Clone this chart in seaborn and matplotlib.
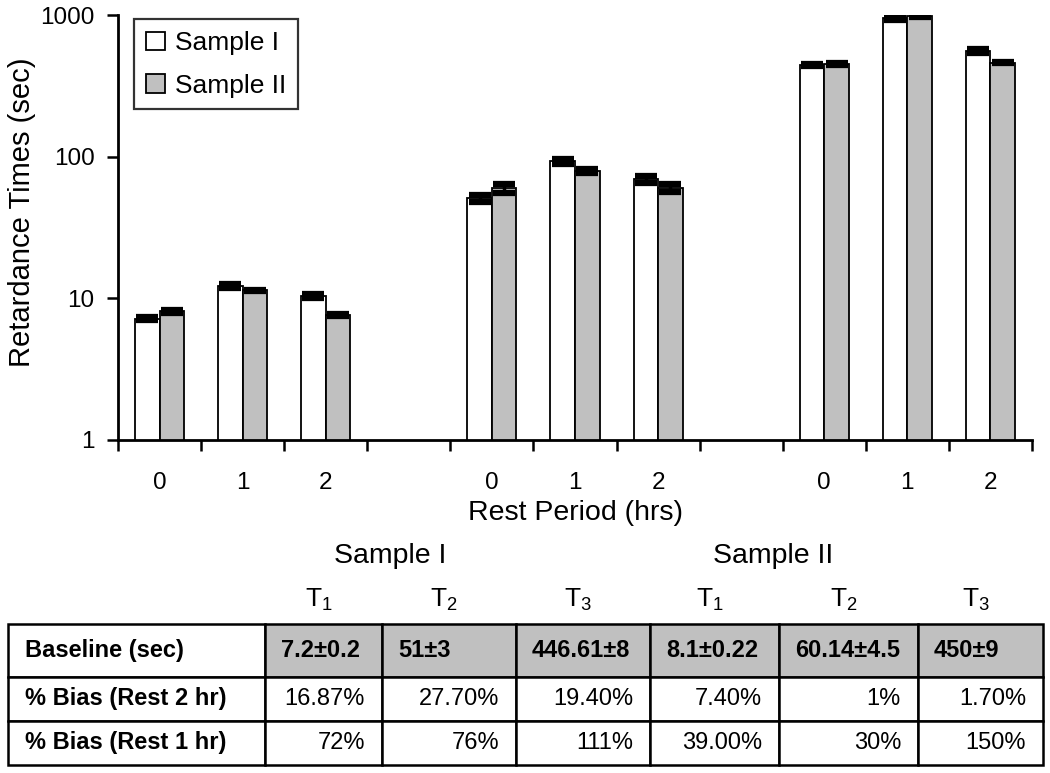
import pandas as pd
import numpy as np
import matplotlib
matplotlib.use('Agg')
import matplotlib.pyplot as plt
import matplotlib.ticker as mtick
import seaborn as sns

# data
slots = ['T1-0', 'T1-1', 'T1-2', 'gap1', 'T2-0', 'T2-1', 'T2-2', 'gap2', 'T3-0', 'T3-1', 'T3-2']
slot_labels = ['0', '1', '2', '', '0', '1', '2', '', '0', '1', '2']
bar_slots = ['T1-0', 'T1-1', 'T1-2', 'T2-0', 'T2-1', 'T2-2', 'T3-0', 'T3-1', 'T3-2']
sample1 = [7.2, 12.2, 10.4, 51, 93, 69, 446.6, 960, 556]
sample2 = [8.1, 11.4, 7.6, 60.1, 79.5, 60, 450, 985, 460]
err1 = [0.2, 0.4, 0.4, 3, 4, 4, 8, 40, 15]
err2 = [0.22, 0.1, 0.1, 4.5, 3, 4, 9, 10, 5]

# table under the chart
row_labels = ['Baseline (sec)', '% Bias (Rest 2 hr)', '% Bias (Rest 1 hr)']
baseline = ['7.2±0.2', '51±3', '446.61±8', '8.1±0.22', '60.14±4.5', '450±9']
bias_2hr = ['16.87%', '27.70%', '19.40%', '7.40%', '1%', '1.70%']
bias_1hr = ['72%', '76%', '111%', '39.00%', '30%', '150%']
t_labels = ['T_1', 'T_2', 'T_3', 'T_1', 'T_2', 'T_3']
sample_names = ['Sample I', 'Sample II']

df = pd.DataFrame({
    'slot': bar_slots * 2,
    'value': sample1 + sample2,
    'sample': ['Sample I'] * 9 + ['Sample II'] * 9,
})

sns.set_theme(style='ticks')
plt.rcParams['font.family'] = ['Liberation Sans', 'DejaVu Sans']
plt.rcParams['mathtext.fontset'] = 'custom'
plt.rcParams['mathtext.rm'] = 'Liberation Sans'
for key in ['text.color', 'axes.labelcolor', 'xtick.color', 'ytick.color', 'axes.edgecolor']:
    plt.rcParams[key] = 'black'

W, H = 1050, 773
fig = plt.figure(figsize=(10.5, 7.73), dpi=100)
ax = fig.add_axes([118 / W, 1 - 440 / H, (1032 - 118) / W, (440 - 15) / H])

grey = '#c0c0c0'
sns.barplot(data=df, x='slot', y='value', hue='sample', order=slots,
            hue_order=sample_names, palette={'Sample I': 'white', 'Sample II': grey},
            edgecolor='black', linewidth=1.3, width=0.59, gap=0,
            ax=ax, legend=False)
ax.set_yscale('log', nonpositive='clip')

# error bars on top of the bars
bars = sorted(ax.patches, key=lambda p: p.get_x())
errs = [e for pair in zip(err1, err2) for e in pair]
xs = [p.get_x() + p.get_width() / 2 for p in bars]
ys = [p.get_height() for p in bars]
ax.errorbar(xs, ys, yerr=errs, fmt='none', ecolor='black', elinewidth=2.5,
            capsize=8, capthick=4.5, zorder=5)

ax.set_ylim(1, 1000)
ax.set_xlim(-0.5, 10.5)
ax.yaxis.set_major_locator(mtick.FixedLocator([1, 10, 100, 1000]))
ax.yaxis.set_minor_locator(mtick.NullLocator())
ax.yaxis.set_major_formatter(mtick.FixedFormatter(['1', '10', '100', '1000']))
ax.set_xticks(range(len(slots)))
ax.set_xticklabels(slot_labels)
ax.set_xticks(np.arange(-0.5, 11, 1), minor=True)
ax.tick_params(axis='x', which='major', length=0, pad=23, labelsize=17.5)
ax.tick_params(axis='x', which='minor', length=8, width=1.8, direction='out')
ax.tick_params(axis='y', which='major', length=8, width=1.8, pad=9, labelsize=17.5)
for side in ['top', 'right']:
    ax.spines[side].set_visible(False)
for side in ['left', 'bottom']:
    ax.spines[side].set_linewidth(2)

ax.set_ylabel('Retardance Times (sec)', fontsize=21)
ax.yaxis.set_label_coords(-0.09, 0.535)
ax.set_xlabel('Rest Period (hrs)', fontsize=20.5)
ax.xaxis.set_label_coords(0.5, -0.142)

handles = [plt.Rectangle((0, 0), 1, 1, facecolor='white', edgecolor='black', linewidth=1.3),
           plt.Rectangle((0, 0), 1, 1, facecolor=grey, edgecolor='black', linewidth=1.3)]
leg = ax.legend(handles, sample_names, loc='upper left', bbox_to_anchor=(0.018, 0.99),
                fontsize=19, frameon=True, fancybox=False, handlelength=0.7,
                handleheight=0.7, handletextpad=0.4, borderpad=0.45, labelspacing=0.7,
                borderaxespad=0)
leg.get_frame().set_edgecolor('black')
leg.get_frame().set_linewidth(1.6)

# headers above the table
fig.text(390 / W, 1 - 556 / H, 'Sample I', ha='center', va='center', fontsize=20.5)
fig.text(773 / W, 1 - 556 / H, 'Sample II', ha='center', va='center', fontsize=20.5)
col_px = [8, 265, 382, 516, 650, 779, 918, 1043]
for i, t in enumerate(t_labels):
    cx = (col_px[i + 1] + col_px[i + 2]) / 2 - 5
    fig.text(cx / W, 1 - 600 / H, '$\\mathregular{' + t + '}$', ha='center', va='center',
             fontsize=19)

tab_ax = fig.add_axes([8 / W, 1 - 765 / H, (1043 - 8) / W, (765 - 624) / H])
tab_ax.axis('off')
cell_text = [[row_labels[0]] + baseline, [row_labels[1]] + bias_2hr, [row_labels[2]] + bias_1hr]
col_w = np.diff(col_px)
cell_colours = [['white'] + [grey] * 6, ['white'] * 7, ['white'] * 7]
tab = tab_ax.table(cellText=cell_text, cellColours=cell_colours,
                   colWidths=list(col_w / col_w.sum()), bbox=[0, 0, 1, 1])
tab.auto_set_font_size(False)
tab.set_fontsize(17)
row_h = [53, 44, 44]
for (r, c), cell in tab.get_celld().items():
    cell.set_height(row_h[r] / sum(row_h))
    cell.set_linewidth(1.8)
    cell.set_edgecolor('black')
    w = col_w[c]
    if c == 0:
        cell.PAD = 17 / w
        cell.set_text_props(ha='left', fontweight='bold')
        cell._loc = 'left'
    elif r == 0:
        cell.PAD = 16 / w
        cell.set_text_props(ha='left', fontweight='bold')
        cell._loc = 'left'
    else:
        cell.PAD = 17 / w
        cell.set_text_props(ha='right')
        cell._loc = 'right'

plt.savefig('out.png', dpi=100)
